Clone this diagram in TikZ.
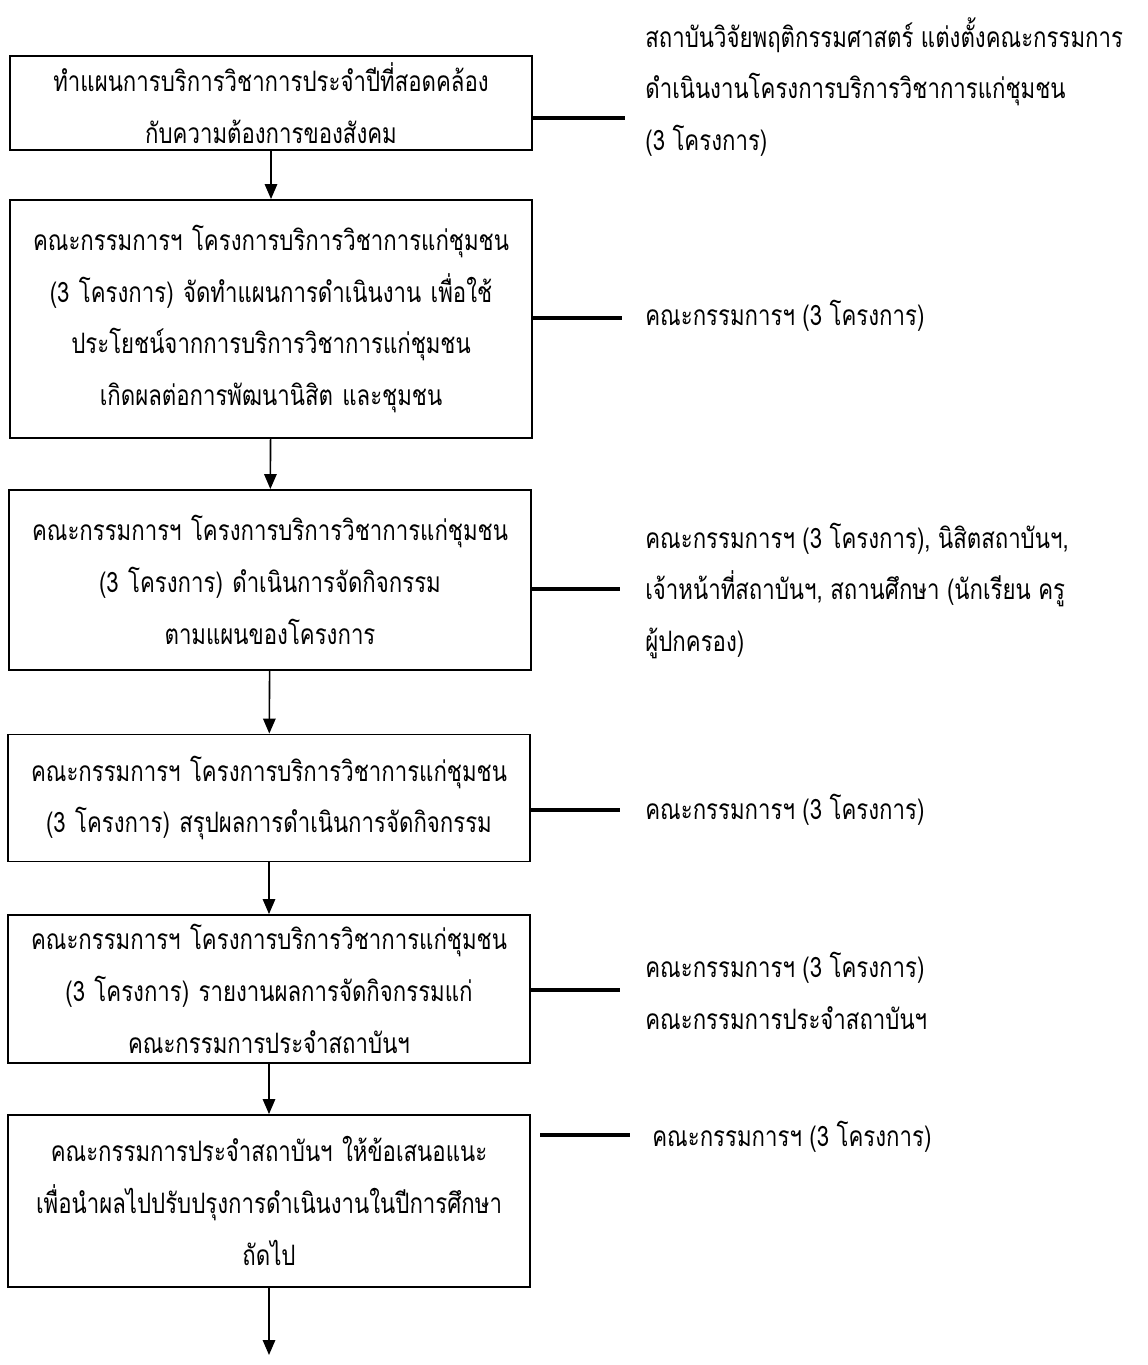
\documentclass[tikz,border=0pt]{standalone}
\usepackage{fontspec}
\usetikzlibrary{arrows.meta}
\newfontfamily\thaifont[Script=Thai,FakeStretch=0.79]{Loma}

\begin{document}
\begin{tikzpicture}[x=0.02cm,y=-0.02cm,
  stepbox/.style={draw, line width=1.1pt, minimum width=10.44cm, text width=10.4cm,
    align=center, inner sep=0pt, font=\thaifont\fontsize{16}{29.5}\selectfont},
  sidenote/.style={anchor=west, align=left, inner sep=0pt, font=\thaifont\fontsize{16}{29.5}\selectfont},
  flow/.style={line width=0.9pt, -{Triangle[length=0.3cm,width=0.25cm]}},
  tie/.style={line width=2pt}]
\useasboundingbox (0,0) rectangle (1148,1365);
% boxes
\node[stepbox, minimum height=1.88cm] (b1) at (271,103) {ทำแผนการบริการวิชาการประจำปีที่สอดคล้อง\\กับความต้องการของสังคม};
\node[stepbox, minimum height=4.76cm] (b2) at (271,319) {คณะกรรมการฯ โครงการบริการวิชาการแก่ชุมชน\\(3 โครงการ) จัดทำแผนการดำเนินงาน เพื่อใช้\\ประโยชน์จากการบริการวิชาการแก่ชุมชน\\เกิดผลต่อการพัฒนานิสิต และชุมชน};
\node[stepbox, minimum height=3.6cm] (b3) at (270,580) {คณะกรรมการฯ โครงการบริการวิชาการแก่ชุมชน\\(3 โครงการ) ดำเนินการจัดกิจกรรม\\ตามแผนของโครงการ};
\node[stepbox, minimum height=2.54cm] (b4) at (269,798) {คณะกรรมการฯ โครงการบริการวิชาการแก่ชุมชน\\(3 โครงการ) สรุปผลการดำเนินการจัดกิจกรรม};
\node[stepbox, minimum height=2.96cm] (b5) at (269,989) {คณะกรรมการฯ โครงการบริการวิชาการแก่ชุมชน\\(3 โครงการ) รายงานผลการจัดกิจกรรมแก่\\คณะกรรมการประจำสถาบันฯ};
\node[stepbox, minimum height=3.44cm] (b6) at (269,1201) {คณะกรรมการประจำสถาบันฯ ให้ข้อเสนอแนะ\\เพื่อนำผลไปปรับปรุงการดำเนินงานในปีการศึกษา\\ถัดไป};
% notes on the right
\node[sidenote] (n1) at (645,87) {สถาบันวิจัยพฤติกรรมศาสตร์ แต่งตั้งคณะกรรมการ\\ดำเนินงานโครงการบริการวิชาการแก่ชุมชน\\(3 โครงการ)};
\node[sidenote] (n2) at (645,316) {คณะกรรมการฯ (3 โครงการ)};
\node[sidenote] (n3) at (645,591) {คณะกรรมการฯ (3 โครงการ), นิสิตสถาบันฯ,\\เจ้าหน้าที่สถาบันฯ, สถานศึกษา (นักเรียน ครู\\ผู้ปกครอง)};
\node[sidenote] (n4) at (645,810) {คณะกรรมการฯ (3 โครงการ)};
\node[sidenote] (n5) at (645,991) {คณะกรรมการฯ (3 โครงการ)\\คณะกรรมการประจำสถาบันฯ};
\node[sidenote] (n6) at (652,1137) {คณะกรรมการฯ (3 โครงการ)};
% arrows down
\coordinate (end) at (269,1355);
\draw[flow] (b1) -- (b2);
\draw[flow] (b2) -- (b3);
\draw[flow] (b3) -- (b4);
\draw[flow] (b4) -- (b5);
\draw[flow] (b5) -- (b6);
\draw[flow] (b6) -- (end);
% side lines
\coordinate (e1) at (625,118);
\coordinate (e2) at (622,318);
\coordinate (e3) at (620,589);
\coordinate (e4) at (620,810);
\coordinate (e5) at (620,990);
\coordinate (s6) at (540,1135);
\coordinate (e6) at (630,1135);
\draw[tie] (b1.east |- e1) -- (e1);
\draw[tie] (b2.east |- e2) -- (e2);
\draw[tie] (b3.east |- e3) -- (e3);
\draw[tie] (b4.east |- e4) -- (e4);
\draw[tie] (b5.east |- e5) -- (e5);
\draw[tie] (s6) -- (e6);
\end{tikzpicture}
\end{document}
